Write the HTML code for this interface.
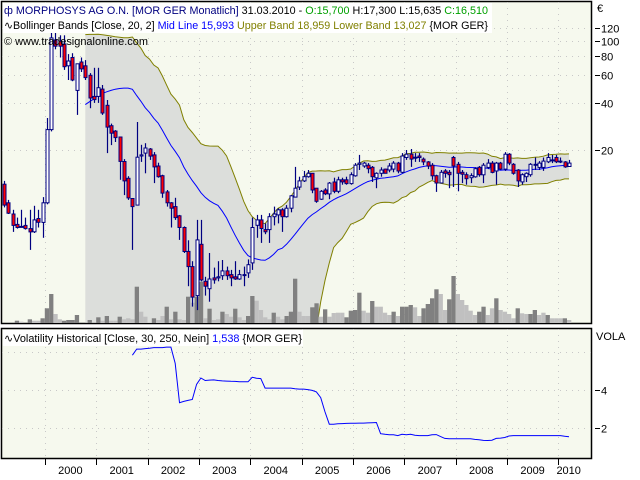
<!DOCTYPE html>
<html><head><meta charset="utf-8"><style>
html,body{margin:0;padding:0;background:#fff;width:640px;height:480px;overflow:hidden}
svg{display:block;font-family:"Liberation Sans",sans-serif}
</style></head><body>
<svg id="chart" width="640" height="480" xmlns="http://www.w3.org/2000/svg">
<defs>
<clipPath id="mainClip"><rect x="2" y="2" width="589" height="321"/></clipPath>
<clipPath id="lowClip"><rect x="2" y="329" width="589" height="129"/></clipPath>
</defs>
<rect x="1.5" y="1.5" width="590" height="322" fill="#f6f9ee" stroke="#000" stroke-width="1.5"/>
<rect x="1.5" y="328.5" width="590" height="130" fill="#f6f9ee" stroke="#000" stroke-width="1.5"/>
<g id="grid"></g>
<g id="band" clip-path="url(#mainClip)"></g>
<g id="vol" clip-path="url(#mainClip)"></g>
<g id="candles" clip-path="url(#mainClip)"></g>
<g id="vola" clip-path="url(#lowClip)"></g>
<g id="axes" font-size="11" fill="#000"></g>
<rect x="3" y="3" width="489" height="30" fill="#fff"/>
<g font-size="11">
<text x="4" y="14" textLength="484" lengthAdjust="spacingAndGlyphs"><tspan fill="#000080">ф MORPHOSYS AG O.N. [MOR GER  Monatlich]</tspan><tspan fill="#000"> 31.03.2010 - </tspan><tspan fill="#00a000">O:15,700</tspan><tspan fill="#000"> H:17,300 L:15,635 </tspan><tspan fill="#00a000">C:16,510</tspan></text>
<text x="4" y="29" textLength="484" lengthAdjust="spacingAndGlyphs"><tspan fill="#000">∿Bollinger Bands [Close, 20, 2] </tspan><tspan fill="#0000ff">Mid Line 15,993 </tspan><tspan fill="#808000">Upper Band 18,959 Lower Band 13,027 </tspan><tspan fill="#000">{MOR GER}</tspan></text>
<text x="4" y="45" fill="#000" textLength="144" lengthAdjust="spacingAndGlyphs">© www.tradesignalonline.com</text>
</g>
<rect x="3" y="330" width="300" height="16" fill="#fff"/>
<text x="4" y="342" font-size="11" textLength="298" lengthAdjust="spacingAndGlyphs"><tspan fill="#000">∿Volatility Historical [Close, 30, 250, Nein] </tspan><tspan fill="#0000ff">1,538 </tspan><tspan fill="#000">{MOR GER}</tspan></text>
</svg>
<script>
const opens=[12.1,9.2,7.8,6.7,6.5,6.6,6.3,6.0,7.3,6.9,
9.2,27,101,99,95,69,78,48,73,69,
60,44,44,49,38.6,28.6,26.4,24.2,16.9,13.2,
9.8,8.9,18.3,19.1,20.3,18.6,15.8,13.7,10.8,9.2,
8.7,7.6,6.4,4.5,3.6,2.35,5.0,2.9,2.6,3.05,
3.05,3.15,3.38,3.2,3.1,3.0,3.2,3.28,3.8,6.6,
7.15,6.2,6.2,7.5,7.7,8.3,7.5,8.5,10.0,11.6,
12.7,13.5,14.2,11.4,9.7,11.1,10.5,12.5,10.9,12.9,
12.9,12.2,13.7,16.2,15.8,16.0,15.5,13.3,14.2,15.1,
14.9,15.1,16.5,14.4,17.9,18.8,18.0,18.3,17.5,16.8,
16.0,13.7,12.3,14.7,14.4,17.9,16.2,14.4,13.9,13.3,
13.5,15.5,13.9,15.5,16.5,14.7,16.5,15.1,18.8,16.2,
14.9,12.5,13.5,13.9,16.0,15.5,15.5,16.8,17.3,17.9,
17.0,16.8,15.7];
const highs=[12.7,9.6,8.3,7.4,8.3,7.4,8.3,8.8,8.3,10.0,
32,125,120,108,108,82,83,71,78,75,
62,67,67,52,41.7,29.5,26.8,24.2,17.5,13.6,
9.8,30.2,21.6,22.1,20.6,19.4,16.6,13.9,11.1,9.3,
9.9,7.7,6.5,5.3,3.9,7.15,7.15,3.1,4.4,3.55,
3.9,3.97,3.6,3.43,3.9,3.43,3.6,4.0,7.4,7.7,
7.7,6.8,7.9,8.7,8.5,8.5,8.9,10.3,15.6,13.5,
14.7,14.9,14.2,11.4,11.1,11.4,12.5,13.3,13.5,13.3,
13.5,14.4,16.5,18.6,16.8,16.5,15.8,14.4,15.5,15.2,
16.5,17.0,16.8,19.1,20.0,20.3,19.1,19.1,17.9,17.0,
16.5,13.9,14.9,15.1,14.9,18.3,16.8,14.9,14.4,14.2,
15.5,15.8,16.5,17.5,17.0,16.8,16.8,19.4,19.1,16.5,
15.1,14.2,14.4,16.5,17.9,17.0,17.9,19.1,18.6,18.6,
17.9,17.0,17.3];
const lows=[8.6,7.8,6.0,6.3,6.4,6.2,4.6,5.9,6.4,5.5,
9.0,26.3,88,78,65,56,55,33.5,63,56,
37,40,40,33.5,19.1,21.5,22.5,12.9,10.3,9.6,
4.6,8.9,16.8,14.2,17.3,12.3,13.3,9.9,8.7,6.4,
7.15,5.33,4.4,2.7,2.0,1.9,2.9,2.35,2.15,2.8,
2.9,2.96,2.96,2.7,2.96,2.96,2.7,3.05,3.43,5.5,
5.1,5.8,5.1,6.6,6.8,6.0,7.4,8.0,10.0,11.1,
12.5,13.3,10.6,9.2,9.6,10.3,9.7,10.6,10.6,12.0,
12.0,12.0,13.5,14.9,15.4,14.2,12.5,11.4,13.5,14.2,
14.4,14.4,14.2,14.2,17.3,15.6,16.8,16.8,16.0,15.1,
12.9,10.8,12.3,13.3,11.4,11.6,10.9,12.3,12.0,12.3,
13.3,13.5,12.3,15.1,14.2,12.0,14.9,14.7,16.0,13.9,
11.6,12.0,12.5,13.5,14.9,14.9,14.7,16.5,16.5,16.5,
16.5,15.4,15.6];
const closes=[8.9,7.9,6.6,6.4,6.5,6.3,6.0,7.15,6.9,9.2,
27,104,92,92,68,74,56,71,66,58,
43,42,50,34.5,28,25.6,24,16.9,12.7,9.9,
8.7,18.0,18.6,20.6,18.3,15.6,13.5,10.6,9.2,8.5,
7.4,6.4,4.5,3.6,2.3,5.33,2.96,2.7,3.0,2.96,
3.1,3.38,3.15,3.05,3.0,3.2,3.2,3.7,6.4,7.15,
6.3,6.0,7.5,7.8,8.3,7.5,8.5,10.2,11.4,12.7,
13.5,14.2,11.1,9.4,10.9,10.5,12.3,10.9,12.9,12.5,
12.2,13.9,16.0,16.5,16.5,15.2,13.5,14.2,14.9,14.2,
15.8,16.5,14.7,18.3,18.8,17.5,17.9,17.9,16.8,15.8,
13.7,12.3,14.4,14.2,13.9,15.8,14.2,14.0,13.1,13.7,
15.2,13.9,16.0,16.5,14.4,16.5,15.1,18.8,16.5,14.2,
12.7,13.9,14.2,16.2,16.2,16.5,17.0,17.9,17.2,16.8,
16.9,15.6,16.5];
const volumes=[1,1.3,1.3,3.3,2.3,1.3,4.7,3.3,3.3,5.7,
15.7,30,10,4.7,3.3,4,4,9,1.3,1.3,
4,1.3,6.7,3.3,8,3.3,3.3,7.3,4.7,5.7,
4.7,37.3,12.3,7.3,1.3,5.7,4,8,17.3,4.7,
12.3,4.7,4,27.3,21.3,27.3,42.3,5.7,15.3,4,
4.7,12.3,10,7.3,15.3,6.7,4,8,28,23.3,
14,6.7,4.7,11.3,7.3,4.7,8,12.3,45.3,12.3,
8,8,16.7,20.7,7.3,14.7,7.3,
11,11.3,11.3,6.7,13.3,14,31.3,13.3,11.3,23,
17.3,17.3,11.3,9,12.3,8,17.3,17.3,19,16.7,
8,15.7,20,25.7,34.7,30,14,24.7,48,30,
24,19,13.3,9,12.3,17.3,9,15.7,25.7,14,
12.3,10,5.7,15.7,10.7,10,10,14,9,11.3,
9,5.7,5.7,5.7,5.7,4];
const volumeDark=[1,1,1,1,0,1,1,0,0,1,
1,1,0,0,1,1,1,1,1,1,
1,1,1,0,1,0,0,1,0,0,
0,1,0,0,0,1,0,0,1,0,
1,0,0,1,0,1,1,0,1,0,
0,1,0,0,1,0,0,1,1,0,
0,0,0,1,0,0,1,1,1,0,
0,0,1,1,0,1,0,
0,0,0,1,1,1,1,0,0,1,
0,0,0,0,1,0,1,1,1,0,
0,1,1,1,1,0,0,1,1,0,
0,0,0,0,1,1,0,0,1,0,
0,0,0,1,0,0,1,1,0,0,
1,0,0,0,1,0];
const volatility=[null,null,null,null,null,null,null,null,null,null,
null,null,null,null,null,null,null,null,null,null,
null,null,null,null,null,null,null,null,null,null,
5.83,6.15,6.15,6.18,6.2,6.23,6.23,6.23,6.26,6.26,
5.4,3.33,3.4,3.45,3.5,4.3,4.63,4.5,4.52,4.53,
4.5,4.48,4.47,4.46,4.45,4.43,4.43,4.43,4.67,4.62,
4.6,4.1,4.1,4.1,4.1,4.1,4.1,4.1,4.07,4.05,
4.05,4.02,3.98,3.9,3.6,2.85,2.2,2.2,2.22,2.23,
2.24,2.25,2.25,2.26,2.26,2.27,2.28,2.29,1.7,1.67,
1.64,1.64,1.6,1.67,1.64,1.67,1.62,1.6,1.6,1.6,
1.64,1.65,1.55,1.45,1.43,1.43,1.43,1.43,1.43,1.43,
1.4,1.38,1.35,1.34,1.36,1.45,1.47,1.5,1.58,1.6,
1.6,1.6,1.6,1.6,1.6,1.6,1.6,1.6,1.6,1.6,
1.6,1.57,1.54];
const priceTicks=[120,100,80,60,40,20];
const volaTicks=[2,4];
const years=[2000,2001,2002,2003,2004,2005,2006,2007,2008,2009,2010];
const firstYear=1999, firstMonth=2; // March 1999 (0-based month)

const NS='http://www.w3.org/2000/svg';
function mk(tag,attrs,parent){const e=document.createElementNS(NS,tag);for(const k in attrs)e.setAttribute(k,attrs[k]);parent.appendChild(e);return e;}
const xOf=i=>4+i*4.28;
const yPrice=p=>150-68*Math.log(p/20);
const yVol=v=>324-v*1.0;
const yVola=v=>466-19*v;
const G=id=>document.getElementById(id);

const grid=G('grid'),axes=G('axes');
priceTicks.forEach(t=>{
  const y=Math.round(yPrice(t))+0.5;
  const gl=mk('line',{x1:2,x2:591,y1:y,y2:y,stroke:'#c8c8c8','stroke-dasharray':'1,5'},grid);
  
  
  const tk=mk('line',{x1:595,x2:600,y1:y,y2:y,stroke:'#000'},axes);
  
  
  const tx=mk('text',{x:601,y:y+4},axes);tx.textContent=t;
  
  
});
const eur=mk('text',{x:597,y:12},axes);eur.textContent='€';


[2,4,6].forEach(t=>{
  const y=Math.round(yVola(t))+0.5;
  const gl=mk('line',{x1:2,x2:591,y1:y,y2:y,stroke:'#c8c8c8','stroke-dasharray':'1,5'},grid);
  
  
});
volaTicks.forEach(t=>{
  const y=Math.round(yVola(t))+0.5;
  const tk=mk('line',{x1:595,x2:600,y1:y,y2:y,stroke:'#000'},axes);
  
  
  const tx=mk('text',{x:601,y:y+4},axes);tx.textContent=t;
  
  
});
const vl=mk('text',{x:596,y:340},axes);vl.textContent='VOLA';


const n=closes.length;
years.forEach(yr=>{
  const idx=(yr-firstYear)*12-firstMonth;
  const x=Math.round(xOf(idx)-2)+0.5;
  [[2,323],[329,458]].forEach(r=>{
    const gl=mk('line',{x1:x,x2:x,y1:r[0],y2:r[1],stroke:'#c8c8c8','stroke-dasharray':'1,5'},grid);
    
    
  });
  const tk=mk('line',{x1:x,x2:x,y1:459,y2:465,stroke:'#000'},axes);
  
  
  const lastIdx=Math.min(idx+11,n-1);
  const cx=(xOf(idx)+xOf(lastIdx))/2+ (lastIdx<idx+11?4:0);
  const tx=mk('text',{x:cx,y:474,'text-anchor':'middle'},axes);tx.textContent=yr;
  
  
});

const bandG=G('band');
const up=[],lo=[],mid=[];
for(let i=19;i<n;i++){
  const w=closes.slice(i-19,i+1);const m=w.reduce((a,b)=>a+b,0)/20;
  const sd=Math.sqrt(w.reduce((a,b)=>a+(b-m)*(b-m),0)/20);
  mid.push([i,m]);up.push([i,m+2*sd]);lo.push([i,m-2*sd]);
}
const yb=p=>p>0.5?Math.min(yPrice(p),340):340;
let d='M'+up.map(([i,v])=>xOf(i).toFixed(1)+','+yb(v).toFixed(1)).join('L');
d+='L'+lo.slice().reverse().map(([i,v])=>xOf(i).toFixed(1)+','+yb(v).toFixed(1)).join('L')+'Z';
const bf=mk('path',{d:d,fill:'#dcdedb',stroke:'none'},bandG);


const line=(arr,col,name)=>{const p=mk('path',{d:'M'+arr.map(([i,v])=>xOf(i).toFixed(1)+','+yb(v).toFixed(1)).join('L'),fill:'none',stroke:col,'stroke-width':1},bandG);
  
  };
line(up,'#808000','bollinger-upper-band');
line(lo,'#808000','bollinger-lower-band');
line(mid,'#0000ff','bollinger-mid-line');

const volG=G('vol');
volumes.forEach((v,i)=>{
  const y=yVol(v);
  const r=mk('rect',{x:(xOf(i)-2).toFixed(1),y:y.toFixed(1),width:4.3,height:(324-y).toFixed(1),fill:volumeDark[i]?'#808080':'#c0c0c0'},volG);
  
  
});

const cG=G('candles');
closes.forEach((c,i)=>{
  const o=opens[i],x=Math.round(xOf(i))+0.5;
  const g=mk('g',{},cG);
  
  
  mk('line',{x1:x,x2:x,y1:yPrice(highs[i]).toFixed(1),y2:yPrice(lows[i]).toFixed(1),stroke:'#000080','stroke-width':1.2},g);
  const t=Math.min(yPrice(o),yPrice(c)),b=Math.max(yPrice(o),yPrice(c));
  mk('rect',{x:x-1.5,y:t.toFixed(1),width:3,height:Math.max(b-t,1).toFixed(1),fill:c<o?'#ff0000':'#ffffff',stroke:'#000080','stroke-width':1},g);
});

const vG=G('vola');
const pts=[];volatility.forEach((v,i)=>{if(v!=null)pts.push(xOf(i).toFixed(1)+','+yVola(v).toFixed(1));});
const vp=mk('path',{d:'M'+pts.join('L'),fill:'none',stroke:'#0000ff','stroke-width':1},vG);


</script>
</body></html>
